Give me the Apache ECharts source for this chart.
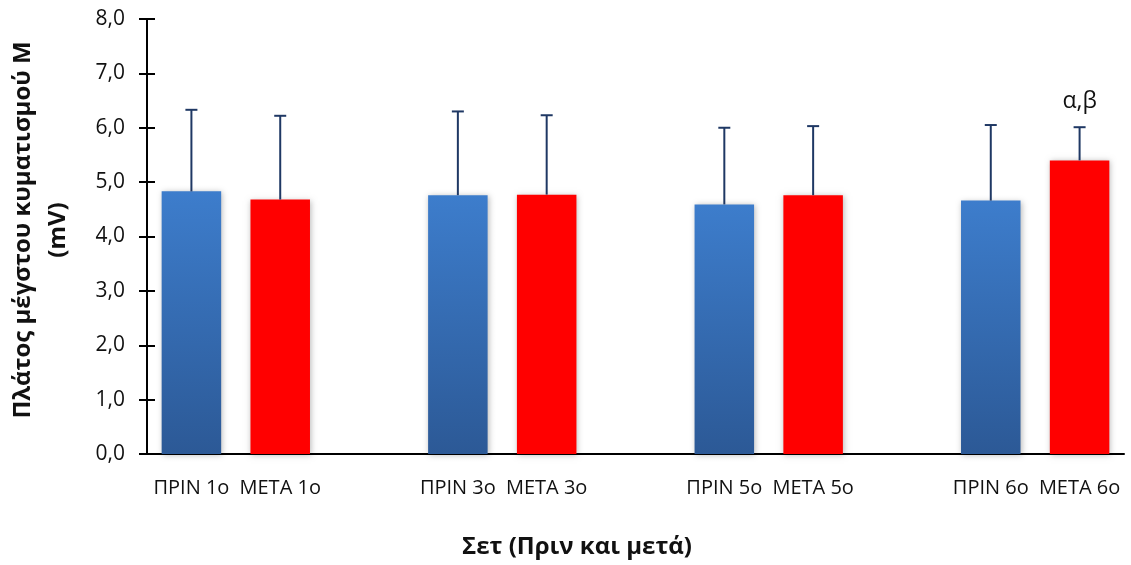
<!DOCTYPE html>
<html>
<head>
<meta charset="utf-8">
<script src="https://cdn.jsdelivr.net/npm/echarts@6/dist/echarts.min.js"></script>
<style>
  html, body { margin: 0; padding: 0; background: #fff; }
  #chart { width: 1131px; height: 565px; }
</style>
</head>
<body>
<div id="chart"></div>
<script>
// Sets of measurement and the mean / SD of the M-wave amplitude (mV)
const sets = ['1ο', '3ο', '5ο', '6ο'];
const prinMean = [4.83, 4.76, 4.59, 4.66];
const prinSD   = [1.50, 1.54, 1.41, 1.39];
const metaMean = [4.68, 4.77, 4.76, 5.40];
const metaSD   = [1.54, 1.46, 1.27, 0.61];
const metaNotes = ['', '', '', 'α,β'];
const yMin = 0, yMax = 8, yStep = 1;

const FONT = '"Open Sans", "Noto Sans", sans-serif';

// Category slots: ΠΡΙΝ, ΜΕΤΑ, then an empty spacer between the sets
const categories = [];
const prinData = [];
const metaData = [];
const errData = [];
sets.forEach(function (s, i) {
  const pi = categories.length;
  categories.push('ΠΡΙΝ ' + s);
  prinData.push(prinMean[i]);
  metaData.push('-');
  errData.push([pi, prinMean[i], prinSD[i], '']);
  const mi = categories.length;
  categories.push('ΜΕΤΑ ' + s);
  prinData.push('-');
  metaData.push(metaMean[i]);
  errData.push([mi, metaMean[i], metaSD[i], metaNotes[i]]);
  if (i < sets.length - 1) {
    categories.push('');
    prinData.push('-');
    metaData.push('-');
  }
});

const chart = echarts.init(document.getElementById('chart'), null, { renderer: 'canvas' });

const barShadow = {
  shadowBlur: 6,
  shadowColor: 'rgba(0,0,0,0.28)',
  shadowOffsetX: 1,
  shadowOffsetY: 1
};

chart.setOption({
  animation: false,
  backgroundColor: '#fff',
  grid: { left: 147, right: 7, top: 19, bottom: 111, containLabel: false, outerBoundsMode: 'none' },
  xAxis: {
    type: 'category',
    data: categories,
    axisTick: { show: false },
    axisLine: { lineStyle: { color: '#000', width: 2 } },
    axisLabel: { interval: 0, fontFamily: FONT, fontSize: 20, color: '#111', margin: 24 },
    splitLine: { show: false }
  },
  yAxis: [
    {
      type: 'value',
      min: yMin, max: yMax, interval: yStep,
      axisLine: { show: true, lineStyle: { color: '#000', width: 2 } },
      axisTick: { show: true, inside: false, length: 8, lineStyle: { color: '#000', width: 2 } },
      axisLabel: {
        fontFamily: FONT, fontSize: 21, color: '#111', margin: 22,
        formatter: function (v) { return v.toFixed(1).replace('.', ','); }
      },
      splitLine: { show: false }
    },
    {
      // inner half of the crossing tick marks
      type: 'value',
      position: 'left',
      min: yMin, max: yMax, interval: yStep,
      axisLine: { show: false },
      axisTick: { show: true, inside: true, length: 8, lineStyle: { color: '#000', width: 2 } },
      axisLabel: { show: false },
      splitLine: { show: false }
    }
  ],
  graphic: [
    {
      type: 'text',
      x: 23, y: 230,
      rotation: Math.PI / 2,
      style: {
        text: 'Πλάτος μέγστου κυματισμού Μ',
        fontFamily: FONT, fontSize: 24, fontWeight: 'bold', fill: '#111',
        align: 'center', verticalAlign: 'middle'
      }
    },
    {
      type: 'text',
      x: 58, y: 230,
      rotation: Math.PI / 2,
      style: {
        text: '(mV)',
        fontFamily: FONT, fontSize: 24, fontWeight: 'bold', fill: '#111',
        align: 'center', verticalAlign: 'middle'
      }
    },
    {
      type: 'text',
      x: 577, y: 547,
      style: {
        text: 'Σετ (Πριν και μετά)',
        fontFamily: FONT, fontSize: 24, fontWeight: 'bold', fill: '#111',
        align: 'center', verticalAlign: 'middle'
      }
    }
  ],
  series: [
    {
      name: 'ΠΡΙΝ',
      type: 'bar',
      data: prinData,
      barWidth: '67%',
      barGap: '-100%',
      itemStyle: Object.assign({
        color: new echarts.graphic.LinearGradient(0, 0, 0, 1, [
          { offset: 0, color: '#3d7dcc' },
          { offset: 1, color: '#2c5996' }
        ])
      }, barShadow),
      z: 2
    },
    {
      name: 'ΜΕΤΑ',
      type: 'bar',
      data: metaData,
      barWidth: '67%',
      barGap: '-100%',
      itemStyle: Object.assign({ color: '#ff0000' }, barShadow),
      z: 2
    },
    {
      name: 'SD',
      type: 'custom',
      data: errData,
      encode: { x: 0, y: 1 },
      z: 5,
      renderItem: function (params, api) {
        const x = api.value(0);
        const mean = api.value(1);
        const sd = api.value(2);
        const note = errData[params.dataIndex][3];
        const base = api.coord([x, mean]);
        const top = api.coord([x, mean + sd]);
        const half = 6;
        const stroke = { stroke: '#1f3864', lineWidth: 2 };
        const children = [
          { type: 'line', shape: { x1: base[0], y1: base[1], x2: top[0], y2: top[1] }, style: stroke },
          { type: 'line', shape: { x1: top[0] - half, y1: top[1], x2: top[0] + half, y2: top[1] }, style: stroke }
        ];
        if (note) {
          children.push({
            type: 'text',
            x: top[0], y: top[1] - 26,
            style: {
              text: note, fontFamily: FONT, fontSize: 23, fill: '#111',
              align: 'center', verticalAlign: 'middle'
            }
          });
        }
        return { type: 'group', children: children };
      }
    }
  ]
});
</script>
</body>
</html>
